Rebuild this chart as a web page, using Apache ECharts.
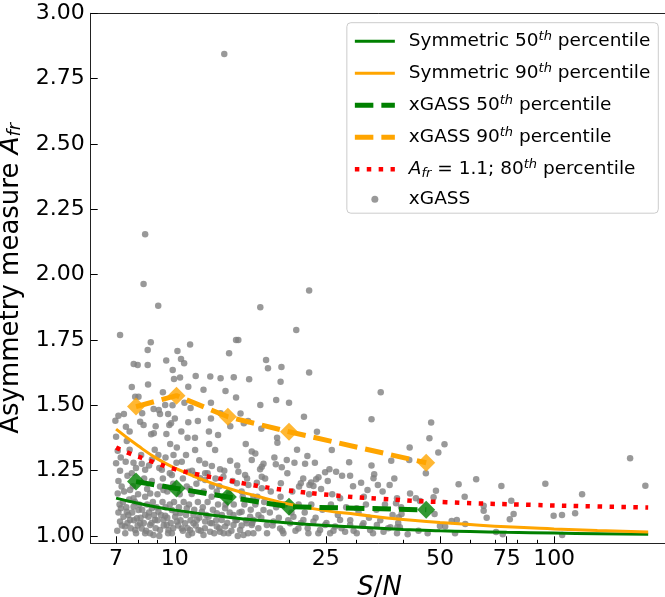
<!DOCTYPE html>
<html>
<head>
<meta charset="utf-8">
<script src="https://cdn.jsdelivr.net/npm/echarts@6/dist/echarts.min.js"></script>
<style>
  html, body { margin: 0; padding: 0; background: #ffffff; overflow: hidden; }
  #chart { width: 665px; height: 597px; }
</style>
</head>
<body>
<div id="chart"></div>
<script>
// ---- axis ticks ----
const xTickLabels = [7, 10, 25, 50, 75, 100];
const xMinorTicks = [6, 8, 9, 20, 30, 40, 60, 70, 80, 90, 200];
const yTickLabels = [1.00, 1.25, 1.50, 1.75, 2.00, 2.25, 2.50, 2.75, 3.00];

// ---- symmetric-profile percentile curves ----
const symSN = [7, 8, 9, 10, 12, 14, 16, 20, 25, 30, 40, 50, 60, 75, 100, 130, 177];
const sym50 = [1.145, 1.125, 1.110, 1.099, 1.083, 1.071, 1.062, 1.050, 1.040, 1.034, 1.025, 1.020, 1.017, 1.014, 1.011, 1.009, 1.007];
const sym90 = [1.409, 1.345, 1.295, 1.260, 1.212, 1.180, 1.157, 1.122, 1.097, 1.083, 1.063, 1.052, 1.044, 1.035, 1.027, 1.021, 1.015];

// ---- A_fr = 1.1 model, 80th percentile ----
const afrSN = [7, 7.6, 8.75, 10, 11.7, 13.4, 15.6, 19.5, 26, 35, 52, 87, 130, 177];
const afr80 = [1.338, 1.316, 1.284, 1.256, 1.233, 1.217, 1.198, 1.176, 1.156, 1.142, 1.129, 1.119, 1.113, 1.109];

// ---- xGASS binned percentiles ----
const binSN = [7.9, 10.1, 13.8, 20.0, 46.0];
const xgass50 = [1.208, 1.182, 1.149, 1.112, 1.100];
const xgass90 = [1.495, 1.537, 1.456, 1.399, 1.280];

// ---- xGASS galaxies: [S/N, A_fr] ----
const xgassHighAfr = [
  [13.5, 2.844], [8.35, 2.155], [8.27, 1.964], [9.04, 1.881], [16.8, 1.875], [22.6, 1.939],
  [7.17, 1.769], [8.64, 1.741], [8.48, 1.712], [10.97, 1.733], [10.16, 1.708], [14.5, 1.750],
  [14.7, 1.750], [20.9, 1.788], [13.9, 1.699], [17.4, 1.673], [10.38, 1.677], [10.58, 1.661],
  [9.49, 1.671], [7.79, 1.658], [7.98, 1.654], [8.48, 1.654], [17.6, 1.642], [19.1, 1.647],
  [9.87, 1.635], [9.95, 1.601], [10.32, 1.606], [11.35, 1.612], [12.4, 1.610], [13.2, 1.604],
  [14.3, 1.607], [15.7, 1.600], [22.6, 1.626]
];
const xgassMidAfr = [
  [19.0, 1.590], [10.85, 1.571], [13.6, 1.555], [34.9, 1.550], [12.45, 1.510], [16.8, 1.501],
  [18.5, 1.520], [9.43, 1.501], [10.6, 1.510], [9.86, 1.500], [7.86, 1.533], [8.02, 1.533],
  [21.9, 1.456], [23.7, 1.399], [33.0, 1.447], [14.9, 1.469], [15.2, 1.431], [8.79, 1.486],
  [9.07, 1.482], [9.14, 1.467], [9.6, 1.467], [7.34, 1.467], [6.97, 1.441], [9.77, 1.431],
  [9.67, 1.425], [10.85, 1.435], [12.45, 1.450], [8.1, 1.437], [8.27, 1.425], [7.43, 1.418],
  [7.0, 1.380], [10.8, 1.376], [11.3, 1.376], [8.66, 1.389], [8.8, 1.393], [13.0, 1.386],
  [47.4, 1.434], [46.9, 1.374], [18.6, 1.376],
  [7.1, 1.46], [7.6, 1.40], [7.7, 1.57], [8.2, 1.47], [8.5, 1.58], [8.9, 1.42], [9.3, 1.55],
  [9.5, 1.39], [10.0, 1.45], [10.4, 1.40], [11.0, 1.49], [11.5, 1.44], [11.9, 1.56], [12.3, 1.40],
  [13.2, 1.47], [14.0, 1.42], [14.5, 1.53], [15.6, 1.44], [16.9, 1.41], [20.0, 1.51]
];
const xgassSN7to16 = [
  [7.47, 1.363], [9.72, 1.352], [10.12, 1.339], [11.31, 1.329], [12.32, 1.352], [12.77, 1.329],
  [15.38, 1.352], [15.95, 1.323], [7.07, 1.326], [7.0, 1.278], [7.42, 1.284], [7.78, 1.280],
  [8.18, 1.276], [8.70, 1.293], [9.05, 1.310], [9.92, 1.310], [10.43, 1.284], [12.02, 1.276],
  [12.52, 1.268], [13.16, 1.255], [13.99, 1.288], [14.71, 1.246], [15.95, 1.291],
  [7.17, 1.250], [7.70, 1.240], [8.35, 1.253], [9.24, 1.253], [9.82, 1.233], [10.86, 1.246],
  [11.31, 1.233], [11.66, 1.221], [12.02, 1.240], [13.43, 1.227], [15.32, 1.233],
  [7.07, 1.163], [7.24, 1.189], [7.62, 1.176], [7.78, 1.144], [8.35, 1.150], [8.61, 1.163],
  [9.14, 1.189], [9.33, 1.176], [10.75, 1.189], [11.08, 1.161], [12.02, 1.214], [12.52, 1.189],
  [12.9, 1.170], [14.57, 1.202], [15.0, 1.170], [15.63, 1.195], [16.11, 1.150],
  [7.1, 1.21], [7.2, 1.30], [7.35, 1.17], [7.5, 1.23], [7.6, 1.33], [7.75, 1.19], [7.9, 1.26],
  [8.0, 1.16], [8.15, 1.31], [8.3, 1.22], [8.45, 1.18], [8.55, 1.27], [8.7, 1.21], [8.85, 1.33],
  [9.0, 1.16], [9.1, 1.26], [9.3, 1.22], [9.45, 1.30], [9.55, 1.17], [9.7, 1.24], [9.9, 1.20],
  [10.1, 1.28], [10.3, 1.16], [10.5, 1.22], [10.7, 1.31], [10.95, 1.18], [11.1, 1.25], [11.4, 1.20],
  [11.6, 1.29], [11.9, 1.17], [12.2, 1.24], [12.5, 1.15], [12.8, 1.22], [13.1, 1.19], [13.5, 1.25],
  [13.9, 1.16], [14.2, 1.21], [14.6, 1.27], [15.1, 1.15], [15.5, 1.22]
];
const xgassSN7to16Low = [
  [7.21, 1.106], [7.47, 1.093], [7.78, 1.112], [8.02, 1.099], [8.35, 1.080], [8.70, 1.106],
  [9.05, 1.093], [9.43, 1.077], [9.82, 1.099], [10.32, 1.087], [10.75, 1.106], [11.2, 1.080],
  [11.78, 1.093], [12.27, 1.074], [12.9, 1.087], [13.57, 1.106], [14.28, 1.080], [15.0, 1.093],
  [15.79, 1.074],
  [7.17, 1.055], [7.39, 1.036], [7.62, 1.061], [7.86, 1.023], [8.10, 1.049], [8.35, 1.010],
  [8.61, 1.042], [8.87, 1.061], [9.14, 1.023], [9.52, 1.042], [9.82, 1.010], [10.12, 1.055],
  [10.43, 1.029], [10.86, 1.004], [11.2, 1.049], [11.54, 1.023], [12.02, 1.055], [12.39, 1.016],
  [12.9, 1.036], [13.29, 1.061], [13.85, 1.010], [14.28, 1.042], [14.86, 1.023], [15.48, 1.049],
  [16.11, 1.010],
  [7.32, 1.074], [7.54, 1.080], [7.94, 1.068], [8.18, 1.029], [8.52, 1.074], [8.78, 1.004],
  [9.33, 1.061], [9.62, 1.023], [10.02, 1.074], [10.64, 1.049], [10.97, 1.023], [11.43, 1.061],
  [11.9, 1.004], [12.52, 1.049], [13.16, 1.016], [13.57, 1.036], [14.57, 1.061], [15.17, 1.004],
  [15.95, 1.042],
  [7.05, 1.02], [7.1, 1.09], [7.15, 1.12], [7.25, 1.04], [7.3, 1.13], [7.4, 1.01], [7.45, 1.11],
  [7.5, 1.05], [7.58, 1.14], [7.65, 1.03], [7.72, 1.09], [7.8, 1.06], [7.85, 1.13], [7.9, 1.01],
  [7.98, 1.04], [8.05, 1.12], [8.12, 1.07], [8.2, 1.10], [8.28, 1.05], [8.4, 1.02], [8.45, 1.12],
  [8.55, 1.09], [8.6, 1.01], [8.68, 1.05], [8.75, 1.13], [8.82, 1.08], [8.9, 1.03], [8.95, 1.11],
  [9.0, 1.06], [9.1, 1.00], [9.2, 1.08], [9.28, 1.13], [9.35, 1.04], [9.45, 1.11], [9.55, 1.07],
  [9.6, 1.01], [9.7, 1.12], [9.75, 1.05], [9.9, 1.03], [9.95, 1.13], [10.05, 1.09], [10.2, 1.04],
  [10.25, 1.11], [10.35, 1.06], [10.5, 1.02], [10.55, 1.13], [10.7, 1.08], [10.8, 1.03],
  [10.9, 1.12], [11.0, 1.06], [11.1, 1.01], [11.25, 1.10], [11.35, 1.04], [11.5, 1.13],
  [11.6, 1.07], [11.7, 1.02], [11.85, 1.11], [12.0, 1.03], [12.1, 1.08], [12.2, 1.13],
  [12.4, 1.05], [12.6, 1.10], [12.7, 1.01], [12.85, 1.06], [13.0, 1.12], [13.1, 1.03],
  [13.3, 1.08], [13.45, 1.01], [13.6, 1.12], [13.75, 1.05], [13.95, 1.09], [14.1, 1.02],
  [14.3, 1.12], [14.45, 1.06], [14.65, 1.00], [14.8, 1.09], [15.0, 1.04], [15.25, 1.12],
  [15.4, 1.06], [15.6, 1.01], [15.85, 1.10], [16.0, 1.05]
];
const xgassSN16to40 = [
  [16.3, 1.316], [17.13, 1.276], [16.95, 1.265], [16.78, 1.255], [18.46, 1.274], [19.14, 1.263],
  [19.73, 1.291], [20.67, 1.280], [22.05, 1.276], [22.36, 1.306], [25.93, 1.329], [28.81, 1.282],
  [24.9, 1.244], [25.56, 1.255], [26.62, 1.246], [23.58, 1.217], [23.92, 1.225], [22.87, 1.205],
  [22.64, 1.195], [23.2, 1.191], [21.48, 1.202], [21.26, 1.189], [19.03, 1.202], [16.95, 1.227],
  [16.45, 1.204], [16.95, 1.183], [28.98, 1.230], [33.54, 1.236], [33.4, 1.221], [30.98, 1.204],
  [34.3, 1.195], [36.84, 1.195], [27.27, 1.144], [32.21, 1.176], [38.53, 1.144], [38.3, 1.125],
  [30.17, 1.106], [37.2, 1.288], [18.64, 1.357],
  [16.5, 1.15], [17.3, 1.22], [17.9, 1.17], [18.3, 1.30], [19.0, 1.15], [19.8, 1.24], [20.4, 1.17],
  [21.0, 1.33], [21.8, 1.22], [22.6, 1.16], [23.4, 1.28], [24.3, 1.18], [25.3, 1.21], [26.0, 1.16],
  [27.6, 1.23], [29.5, 1.19], [31.5, 1.15], [33.0, 1.27], [35.3, 1.17], [37.9, 1.22]
];
const xgassSN16to40Low = [
  [16.11, 1.061], [16.61, 1.080], [17.13, 1.099], [17.48, 1.042], [18.2, 1.055], [18.95, 1.029],
  [19.33, 1.010], [20.13, 1.049], [20.54, 1.074], [21.17, 1.029], [21.82, 1.061], [22.5, 1.010],
  [23.2, 1.055], [24.15, 1.023], [24.9, 1.042], [25.67, 1.010], [26.46, 1.036], [27.27, 1.061],
  [28.11, 1.016], [28.98, 1.042], [30.17, 1.010], [31.43, 1.049], [32.72, 1.023], [34.09, 1.042],
  [35.5, 1.016], [37.0, 1.033], [38.53, 1.010],
  [16.3, 1.12], [16.6, 1.03], [16.9, 1.07], [17.2, 1.13], [17.5, 1.01], [17.8, 1.09], [18.1, 1.04],
  [18.5, 1.11], [18.8, 1.07], [19.2, 1.02], [19.5, 1.12], [19.9, 1.06], [20.3, 1.09], [20.8, 1.02],
  [21.2, 1.12], [21.5, 1.05], [22.0, 1.09], [22.4, 1.03], [22.9, 1.12], [23.5, 1.07], [23.9, 1.01],
  [24.5, 1.10], [25.1, 1.05], [25.8, 1.12], [26.2, 1.02], [26.9, 1.08], [27.5, 1.03], [28.3, 1.11],
  [29.0, 1.06], [29.6, 1.02], [30.5, 1.09], [31.2, 1.04], [31.9, 1.12], [32.5, 1.07], [33.3, 1.01],
  [34.0, 1.10], [34.8, 1.06], [35.8, 1.12], [36.5, 1.03], [37.5, 1.08], [38.8, 1.05], [39.5, 1.11]
];
const xgassSN40plus = [
  [41.6, 1.339], [51.4, 1.351], [49.5, 1.319], [41.5, 1.291], [45.9, 1.240], [56.0, 1.198],
  [62.3, 1.217], [72.6, 1.191], [94.8, 1.200], [41.7, 1.163], [48.8, 1.173], [43.2, 1.144],
  [44.3, 1.134], [48.1, 1.148], [58.1, 1.150], [77.1, 1.135], [65.2, 1.116], [65.2, 1.097],
  [78.2, 1.084], [76.4, 1.064], [66.4, 1.070], [55.4, 1.061], [53.7, 1.057], [58.3, 1.046],
  [39.6, 1.084], [38.9, 1.072], [48.4, 1.084], [39.2, 1.033], [38.6, 1.033], [43.9, 1.020],
  [46.4, 1.010], [41.1, 1.007], [50.0, 1.038], [51.6, 1.036], [54.8, 1.010], [73.2, 1.007],
  [70.3, 1.015], [158.6, 1.297], [174, 1.192], [118.5, 1.160], [99.7, 1.077], [104.9, 1.080],
  [113.6, 1.087], [105, 1.004]
];

const xgassPoints = [].concat(xgassHighAfr, xgassMidAfr, xgassSN7to16, xgassSN7to16Low,
  xgassSN16to40, xgassSN16to40Low, xgassSN40plus);
const pairs = (xs, ys) => xs.map((x, i) => [x, ys[i]]);

const FONT = 'DejaVu Sans';
const SPINE = '#222222';
const GREEN = '#008000', ORANGE = '#ffa500', RED = '#ff0000', GREY = '#808080';

const NAME_S50 = 'Symmetric 50th percentile';
const NAME_S90 = 'Symmetric 90th percentile';
const NAME_X50 = 'xGASS 50th percentile';
const NAME_X90 = 'xGASS 90th percentile';
const NAME_AFR = 'Afr = 1.1; 80th percentile';
const NAME_PTS = 'xGASS';

const legendText = {
  [NAME_S50]: '{sp|}{t|Symmetric 50}{sup|th}{t| percentile}',
  [NAME_S90]: '{sp|}{t|Symmetric 90}{sup|th}{t| percentile}',
  [NAME_X50]: '{sp|}{t|xGASS 50}{sup|th}{t| percentile}',
  [NAME_X90]: '{sp|}{t|xGASS 90}{sup|th}{t| percentile}',
  [NAME_AFR]: '{sp|}{i|A}{sub|fr}{t| = 1.1; 80}{sup|th}{t| percentile}',
  [NAME_PTS]: '{sp|}{t|xGASS}'
};

const LEG_FS = 18.5;
const legendRich = {
  sp: { width: 9 },
  t: { fontFamily: FONT, fontSize: LEG_FS, color: '#000', lineHeight: 24 },
  i: { fontFamily: FONT, fontSize: LEG_FS, fontStyle: 'italic', color: '#000', lineHeight: 24 },
  sup: { fontFamily: FONT, fontSize: 13, fontStyle: 'italic', color: '#000', lineHeight: 14, padding: [0, 0, 10, 0] },
  sub: { fontFamily: FONT, fontSize: 13, fontStyle: 'italic', color: '#000', lineHeight: 14, padding: [8, 0, 0, 0] }
};

const TICK_FS = 22;
const NAME_FS = 26;
const yNameRich = {
  t: { fontFamily: FONT, fontSize: NAME_FS, color: '#000', lineHeight: 30 },
  i: { fontFamily: FONT, fontSize: NAME_FS, fontStyle: 'italic', color: '#000', lineHeight: 30 },
  sub: { fontFamily: FONT, fontSize: 18, fontStyle: 'italic', color: '#000', lineHeight: 20, padding: [10, 0, 0, 0] }
};
const xNameRich = {
  t: { fontFamily: FONT, fontSize: NAME_FS, color: '#000', lineHeight: 30 },
  i: { fontFamily: FONT, fontSize: NAME_FS, fontStyle: 'italic', color: '#000', lineHeight: 30 }
};

const chart = echarts.init(document.getElementById('chart'), null, { renderer: 'canvas' });

const baseX = { type: 'log', logBase: 10, min: 6, max: 200, gridIndex: 0, splitLine: { show: false }, minorTick: { show: false }, minorSplitLine: { show: false } };
const hiddenLegendMarker = { opacity: 0 };

chart.setOption({
  animation: false,
  backgroundColor: '#ffffff',
  grid: { left: 90.7, right: -3.3, top: 13.3, bottom: 53.7, containLabel: false, outerBoundsMode: 'none' },
  xAxis: [
    Object.assign({}, baseX, {
      position: 'bottom',
      axisLine: { show: true, onZero: false, lineStyle: { color: SPINE, width: 1 } },
      axisTick: { show: true, inside: true, length: 7, customValues: xTickLabels, lineStyle: { color: '#000', width: 1 } },
      axisLabel: { show: true, customValues: xTickLabels, margin: 5, fontFamily: FONT, fontSize: TICK_FS, color: '#000', formatter: v => String(v) },
      name: '{i|S}{t|/}{i|N}', nameLocation: 'middle', nameGap: 16,
      nameTextStyle: { rich: xNameRich }
    }),
    Object.assign({}, baseX, {
      position: 'bottom',
      axisLine: { show: false, onZero: false },
      axisTick: { show: true, inside: true, length: 3.5, customValues: xMinorTicks, lineStyle: { color: '#000', width: 1 } },
      axisLabel: { show: false }
    }),
    Object.assign({}, baseX, {
      position: 'top',
      axisLine: { show: true, onZero: false, lineStyle: { color: SPINE, width: 1 } },
      axisTick: { show: false },
      axisLabel: { show: false }
    })
  ],
  yAxis: {
    type: 'value', min: 0.972, max: 3.0, position: 'left',
    splitLine: { show: false },
    axisLine: { show: true, onZero: false, lineStyle: { color: SPINE, width: 1 } },
    axisTick: { show: true, inside: true, length: 7, customValues: yTickLabels, lineStyle: { color: '#000', width: 1 } },
    axisLabel: { show: true, customValues: yTickLabels, margin: 6, fontFamily: FONT, fontSize: TICK_FS, color: '#000', formatter: v => v.toFixed(2) },
    name: '{t|Asymmetry measure }{i|A}{sub|fr}', nameLocation: 'middle', nameRotate: 90, nameGap: 46,
    nameTextStyle: { rich: yNameRich }
  },
  legend: {
    orient: 'vertical', right: 6.7, top: 22.7,
    itemWidth: 40, itemHeight: 7, itemGap: 9,
    padding: [7, 8, 4.5, 5.5],
    borderColor: '#cccccc', borderWidth: 1, borderRadius: 4,
    backgroundColor: 'rgba(255,255,255,0.8)',
    selectedMode: false,
    lineStyle: { width: 'inherit' },
    data: [
      { name: NAME_S50, itemStyle: hiddenLegendMarker },
      { name: NAME_S90, itemStyle: hiddenLegendMarker },
      { name: NAME_X50, itemStyle: hiddenLegendMarker },
      { name: NAME_X90, itemStyle: hiddenLegendMarker },
      { name: NAME_AFR, itemStyle: hiddenLegendMarker },
      { name: NAME_PTS, icon: 'circle' }
    ],
    formatter: name => legendText[name],
    textStyle: { rich: legendRich }
  },
  series: [
    {
      name: NAME_PTS, type: 'scatter', data: xgassPoints, symbol: 'circle', symbolSize: 6.5,
      itemStyle: { color: GREY }, silent: true
    },
    {
      name: NAME_S50, type: 'line', data: pairs(symSN, sym50), smooth: true, symbol: 'none', showSymbol: false,
      lineStyle: { color: GREEN, width: 3 }, itemStyle: { color: GREEN }
    },
    {
      name: NAME_S90, type: 'line', data: pairs(symSN, sym90), smooth: true, symbol: 'none', showSymbol: false,
      lineStyle: { color: ORANGE, width: 3 }, itemStyle: { color: ORANGE }
    },
    {
      name: NAME_X50, type: 'line', data: pairs(binSN, xgass50), symbol: 'none', showSymbol: false,
      lineStyle: { color: GREEN, width: 5, type: [18.5, 8], cap: 'butt' }, itemStyle: { color: GREEN }
    },
    {
      name: 'xGASS 50th bins', type: 'scatter', data: pairs(binSN, xgass50), symbol: 'diamond', symbolSize: 18,
      itemStyle: { color: GREEN }
    },
    {
      name: NAME_X90, type: 'line', data: pairs(binSN, xgass90), symbol: 'none', showSymbol: false,
      lineStyle: { color: ORANGE, width: 5, type: [18.5, 8], cap: 'butt' }, itemStyle: { color: ORANGE }
    },
    {
      name: 'xGASS 90th bins', type: 'scatter', data: pairs(binSN, xgass90), symbol: 'diamond', symbolSize: 18,
      itemStyle: { color: ORANGE }
    },
    {
      name: NAME_AFR, type: 'line', data: pairs(afrSN, afr80), smooth: true, symbol: 'none', showSymbol: false,
      lineStyle: { color: RED, width: 4.5, type: [4.5, 7.4], cap: 'butt' }, itemStyle: { color: RED }
    }
  ]
});
</script>
</body>
</html>
